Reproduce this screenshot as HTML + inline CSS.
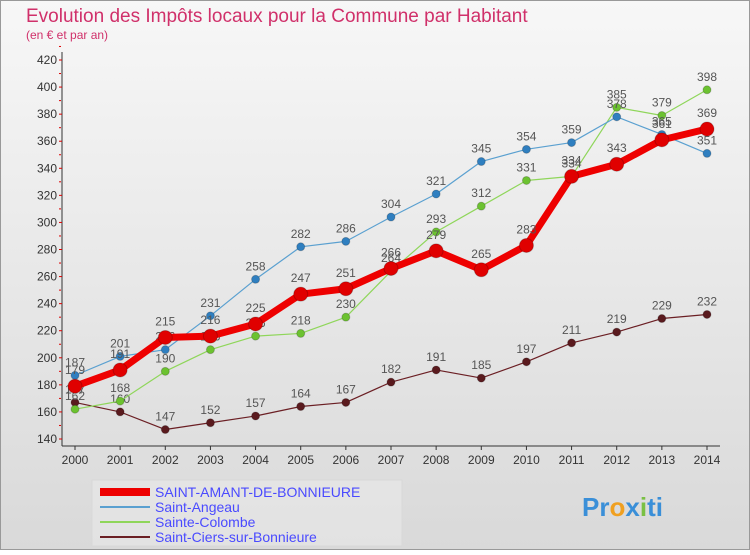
<!DOCTYPE html>
<html><head><meta charset="utf-8"><style>
body{margin:0;width:750px;height:550px;overflow:hidden;font-family:"Liberation Sans",sans-serif}
</style></head><body>
<svg width="750" height="550" xmlns="http://www.w3.org/2000/svg">
<defs><linearGradient id="bg" x1="0" y1="0" x2="0" y2="1"><stop offset="0" stop-color="#f7f7f7"/><stop offset="1" stop-color="#d9d9d9"/></linearGradient></defs>
<rect x="0.5" y="0.5" width="749" height="549" fill="url(#bg)" stroke="#999"/>
<text x="26" y="22" font-size="19" fill="#d0306a">Evolution des Impôts locaux pour la Commune par Habitant</text>
<text x="26" y="39" font-size="12" fill="#d0306a">(en € et par an)</text>
<g id="axes"></g><g id="plot"></g>
<rect x="92" y="480" width="310" height="66" fill="#f0f0f0" fill-opacity="0.4" stroke="#d8d8d8"/>
<g id="legend"></g>
<text x="582" y="516" font-size="26" font-weight="bold" fill="#3a8fd8">Pr<tspan fill="#f0a020">o</tspan>x<tspan fill="#7ac043">i</tspan>ti</text>
</svg>
<script>
const years=[2000,2001,2002,2003,2004,2005,2006,2007,2008,2009,2010,2011,2012,2013,2014];
const yTicks=[140,160,180,200,220,240,260,280,300,320,340,360,380,400,420];
const names=["SAINT-AMANT-DE-BONNIEURE","Saint-Angeau","Sainte-Colombe","Saint-Ciers-sur-Bonnieure"];
const amant=[179,191,215,216,225,247,251,266,279,265,283,334,343,361,369];
const angeau=[187,201,206,231,258,282,286,304,321,345,354,359,378,365,351];
const colombe=[162,168,190,206,216,218,230,264,293,312,331,334,385,379,398];
const ciers=[167,160,147,152,157,164,167,182,191,185,197,211,219,229,232];
const NS="http://www.w3.org/2000/svg";
const X=i=>75+i*(707-75)/14, Y=v=>439-(v-140)*(439-60)/280;
function mk(p,t,a){const e=document.createElementNS(NS,t);for(const k in a)e.setAttribute(k,a[k]);p.appendChild(e);return e;}
const ax=document.getElementById('axes'),pl=document.getElementById('plot'),lg=document.getElementById('legend');
let l=mk(ax,'line',{x1:62,y1:52,x2:62,y2:446,stroke:'#333'});


l=mk(ax,'line',{x1:62,y1:446,x2:720,y2:446,stroke:'#333'});


yTicks.forEach(v=>{const t=mk(ax,'text',{x:57,y:Y(v)+4,'text-anchor':'end','font-size':12,fill:'#333'});t.textContent=v;


mk(ax,'line',{x1:59,y1:Y(v),x2:62,y2:Y(v),stroke:'#d00'});
mk(ax,'line',{x1:59,y1:Y(v+10),x2:61,y2:Y(v+10),stroke:'#d00'});});
years.forEach((y,i)=>{const t=mk(ax,'text',{x:X(i),y:464,'text-anchor':'middle','font-size':12,fill:'#333'});t.textContent=y;


mk(ax,'line',{x1:X(i),y1:446,x2:X(i),y2:450,stroke:'#333'});});
const series=[[ciers,'#6b1f24','#5a1a1e',1.2,4,'ciers'],[colombe,'#8fd65a','#6cc230',1.2,4,'colombe'],[angeau,'#5aa0d0','#2f7fc0',1.2,4,'angeau'],[amant,'#ee0000','#e00000',7,7,'amant']];
series.forEach(([d,c,mc,w,r,n])=>{
const g=mk(pl,'g',{});


const p=mk(g,'polyline',{points:d.map((v,i)=>X(i)+','+Y(v)).join(' '),fill:'none',stroke:c,'stroke-width':w,'stroke-linejoin':'round'});


d.forEach((v,i)=>{const m=mk(g,'circle',{cx:X(i),cy:Y(v),r:r,fill:mc,stroke:'rgba(0,0,0,0.2)'});


const t=mk(g,'text',{x:X(i),y:Y(v)-(r+5),'text-anchor':'middle','font-size':12,fill:'#555'});t.textContent=v;

});
});
const lc=['#ee0000','#5aa0d0','#8fd65a','#6b1f24'],lw=[8,2,2,2];
names.forEach((n,i)=>{const y=492+i*15;
const s=mk(lg,'line',{x1:100,y1:y,x2:150,y2:y,stroke:lc[i],'stroke-width':lw[i]});


const t=mk(lg,'text',{x:155,y:y+5,'font-size':14,fill:'#4a4aff'});t.textContent=n;

});
</script>
</body></html>
